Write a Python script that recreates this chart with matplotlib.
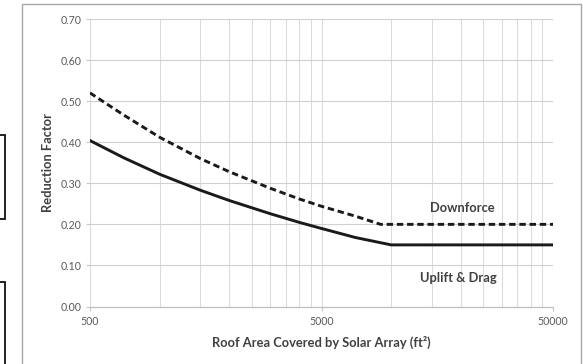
import matplotlib
matplotlib.use("Agg")
import matplotlib.pyplot as plt
from matplotlib.patches import Rectangle
from matplotlib.ticker import FixedLocator, NullFormatter

# --- DATA ---
area_down = [500, 700, 1000, 1500, 2000, 3000, 4000, 5000, 7000, 9000, 50000]
downforce = [0.52, 0.466, 0.412, 0.36, 0.328, 0.288, 0.262, 0.244, 0.22, 0.20, 0.20]

area_up = [500, 700, 1000, 1500, 2000, 3000, 4000, 5000, 7000, 10000, 50000]
uplift = [0.404, 0.362, 0.322, 0.283, 0.258, 0.226, 0.205, 0.19, 0.168, 0.15, 0.15]

major_x = [500, 5000, 50000]
minor_x = [500 * k for k in range(2, 10)] + [5000 * k for k in range(2, 10)]
y_ticks = [0.0, 0.1, 0.2, 0.3, 0.4, 0.5, 0.6, 0.7]

plt.rcParams["font.family"] = ["Lato", "DejaVu Sans"]

fig = plt.figure(figsize=(5.83, 3.64), dpi=100)
ax = fig.add_axes([90 / 583, 1 - 306.5 / 364, 463 / 583, 287.5 / 364])

ax.plot(area_down, downforce, color="#1a1a1a", lw=2.1, linestyle=(0, (2.2, 1.3)))
ax.plot(area_up, uplift, color="#1a1a1a", lw=2.1)

ax.set_xscale("log")
ax.set_xlim(500, 50000)
ax.set_ylim(0, 0.7)

ax.xaxis.set_major_locator(FixedLocator(major_x))
ax.xaxis.set_minor_locator(FixedLocator(minor_x))
ax.xaxis.set_minor_formatter(NullFormatter())
ax.set_xticklabels([str(v) for v in major_x])
ax.set_yticks(y_ticks)
ax.set_yticklabels(["%.2f" % v for v in y_ticks])

ax.grid(True, which="major", axis="y", color="#d0d0d0", lw=0.8)
ax.grid(True, which="both", axis="x", color="#dcdcdc", lw=0.8)
ax.set_axisbelow(True)

for s in ["top", "right", "left"]:
    ax.spines[s].set_visible(False)
ax.spines["bottom"].set_color("#c0c0c0")
ax.spines["bottom"].set_linewidth(0.9)

ax.tick_params(axis="both", which="both", colors="#c8c8c8", length=3, width=0.8,
               labelcolor="#595959", labelsize=7.6)
ax.tick_params(axis="x", which="minor", length=0)
ax.tick_params(axis="x", which="major", pad=3.5)
ax.tick_params(axis="y", pad=3)

ax.set_xlabel("Roof Area Covered by Solar Array (ft²)", fontsize=9.3, fontweight="bold",
              color="#404040", labelpad=7)
ax.set_ylabel("Reduction Factor", fontsize=9.3, fontweight="bold", color="#404040",
              labelpad=5)

ax.text(20200, 0.2405, "Downforce", fontsize=9.3, fontweight="bold", color="#404040",
        ha="center", va="center")
ax.text(19600, 0.0706, "Uplift & Drag", fontsize=9.3, fontweight="bold", color="#404040",
        ha="center", va="center")

# outer chart frame and cropped neighbouring boxes
fig.patches.append(Rectangle((22 / 583, -0.05), 559 / 583, 1 - 4 / 364 + 0.05,
                             transform=fig.transFigure, fill=False,
                             edgecolor="#a8a8a8", lw=1.0))
fig.patches.append(Rectangle((-0.05, 1 - 219 / 364), 0.05 + 4.5 / 583, 84 / 364,
                             transform=fig.transFigure, fill=False,
                             edgecolor="#111111", lw=1.3))
fig.patches.append(Rectangle((-0.05, -0.05), 0.05 + 4.5 / 583, 1 - 282 / 364 + 0.05,
                             transform=fig.transFigure, fill=False,
                             edgecolor="#111111", lw=1.3))

fig.savefig("out.png", dpi=100)
